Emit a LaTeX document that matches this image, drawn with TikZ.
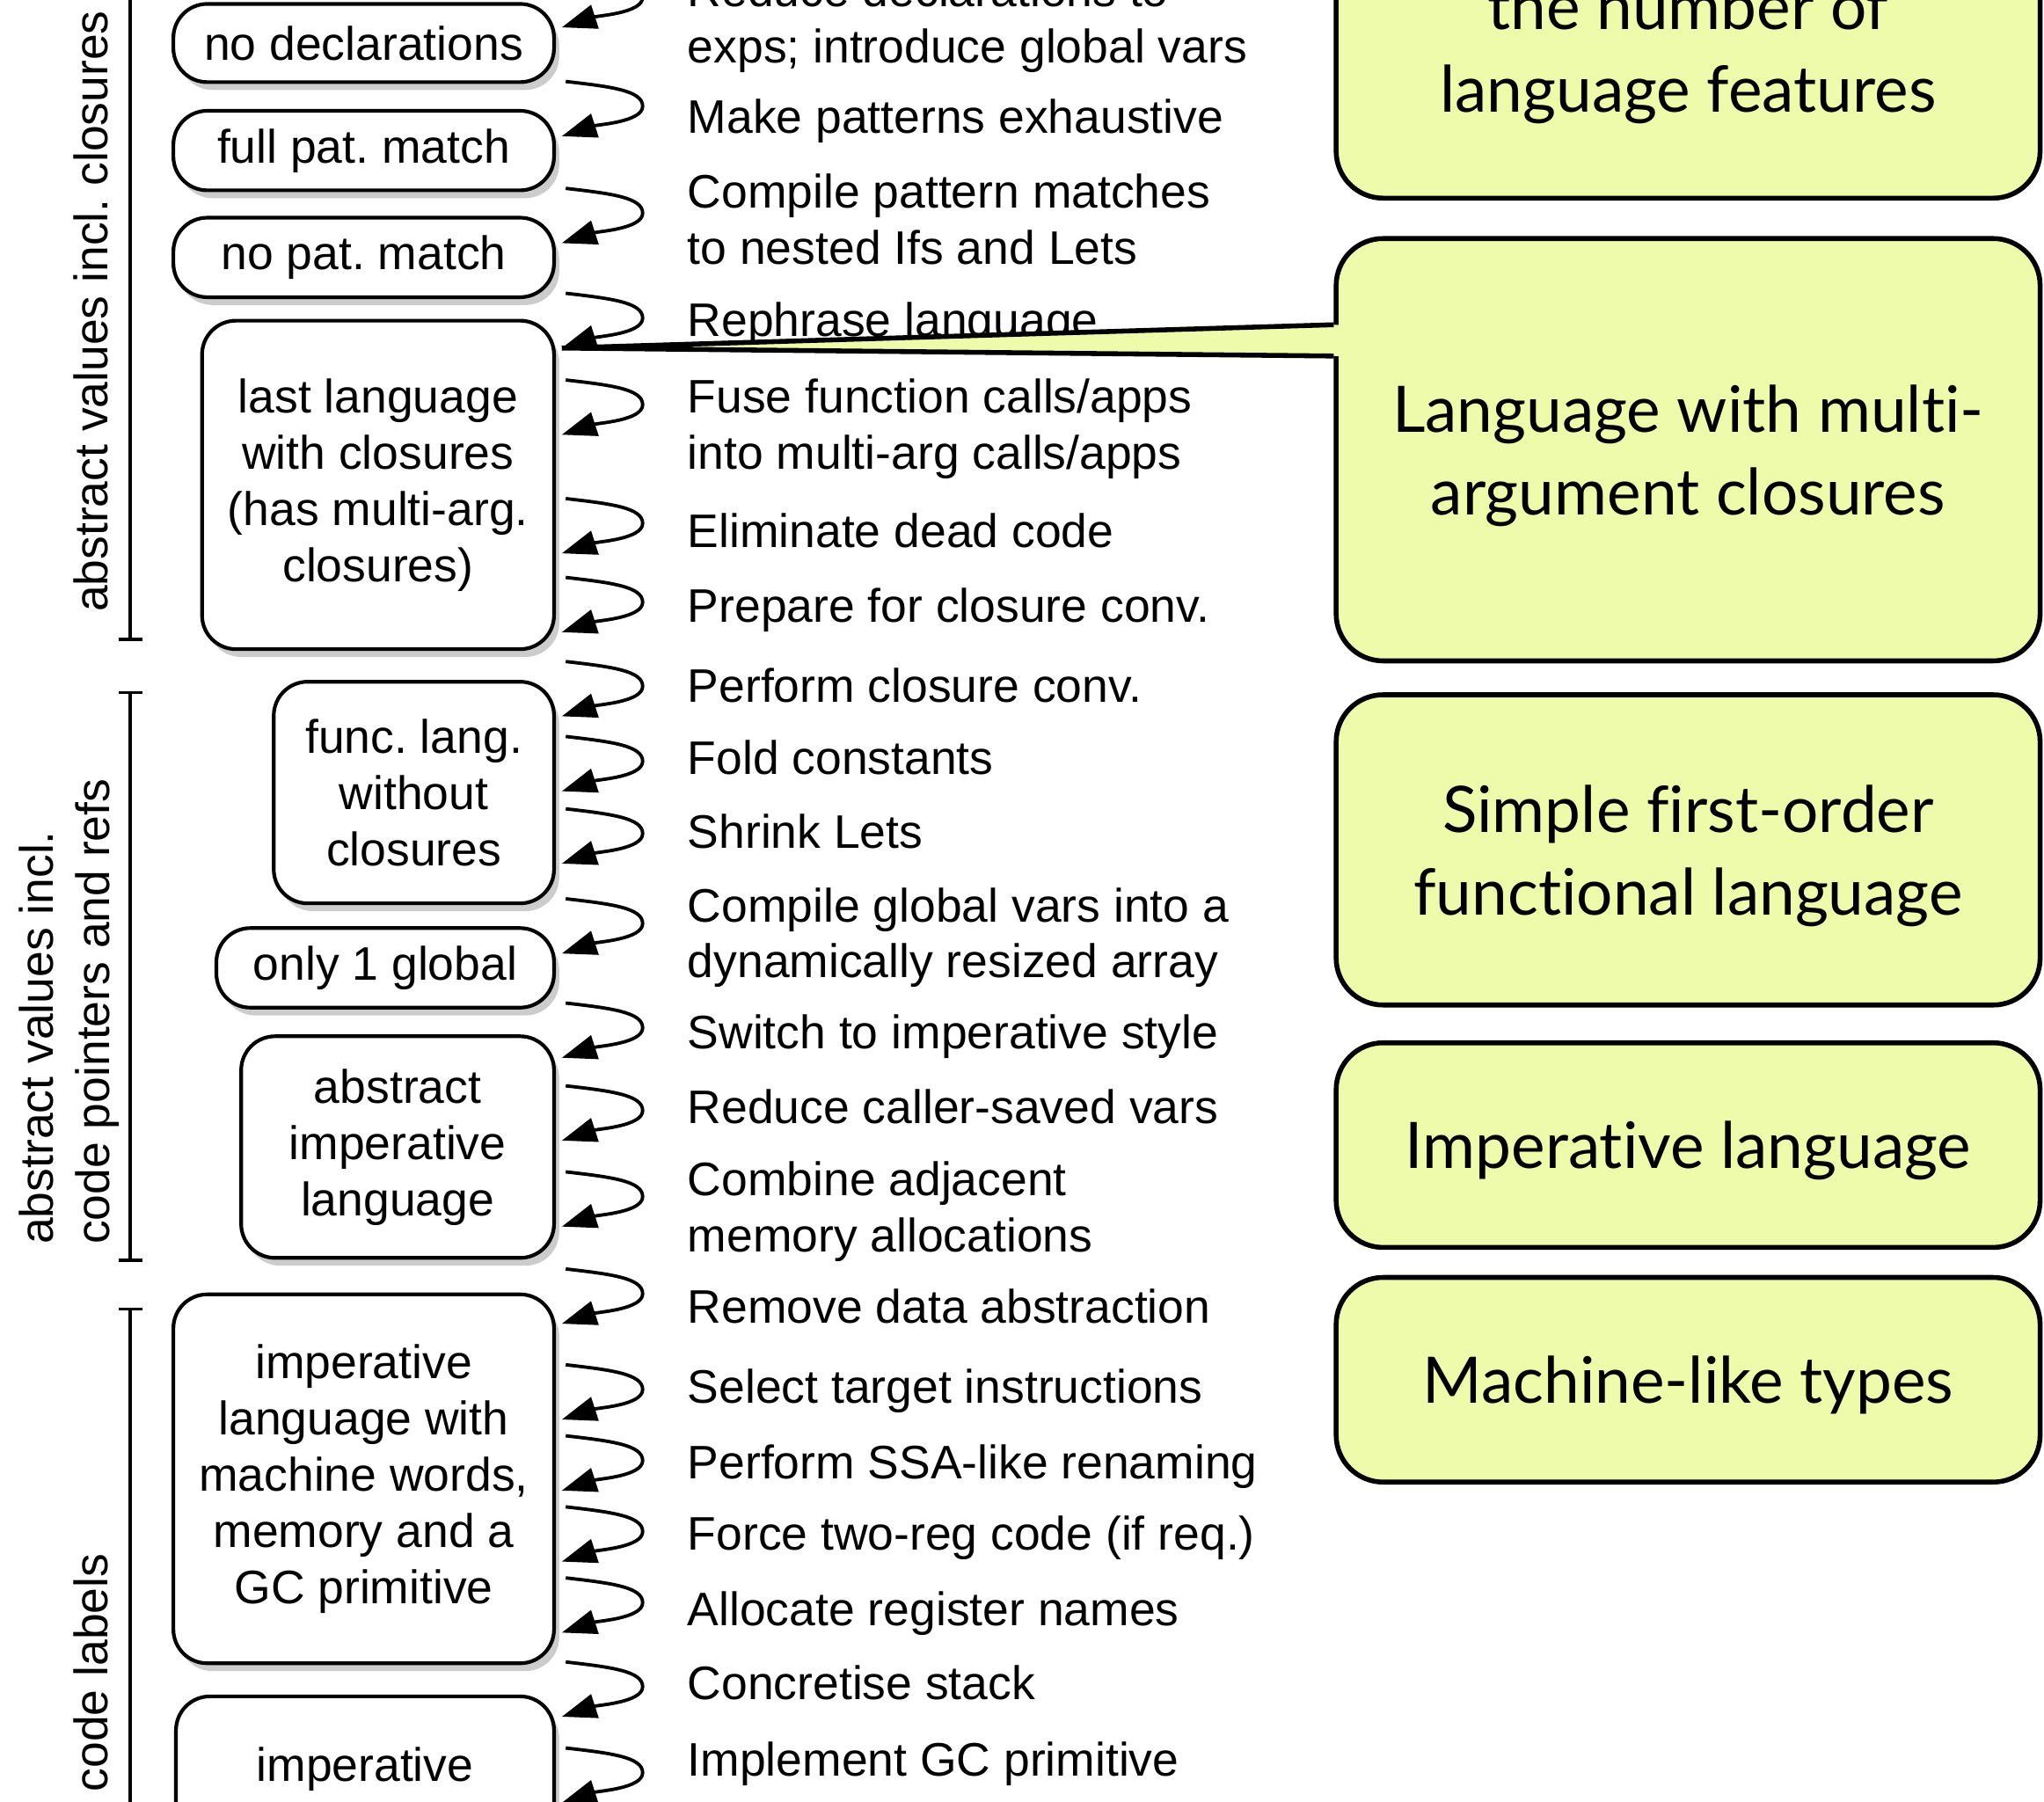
\documentclass[tikz,border=0pt]{standalone}
\usepackage{fontspec}
\setmainfont{Liberation Sans}
\newfontfamily\notefont[Ligatures=NoCommon]{Lato}
\usetikzlibrary{arrows.meta, shadows, calc}
\definecolor{notefill}{HTML}{EEFBAA}

\begin{document}
\begin{tikzpicture}[
    x=0.015cm, y=-0.015cm,
    lang/.style={rectangle, draw, rounded corners=0.39cm, line width=1.2pt,
                 fill=white, align=center, inner sep=0pt,
                 font=\fontsize{15.4}{18.4}\selectfont,
                 drop shadow={shadow xshift=0.06cm, shadow yshift=-0.09cm,
                              fill=black!20, opacity=1}},
    note/.style={rectangle, draw, rounded corners=0.54cm, line width=1.6pt,
                 fill=notefill, align=center, minimum width=8.1cm, text depth=0pt,
                 font=\notefont\fontsize{21}{27}\selectfont},
    passlbl/.style={anchor=west, align=left, inner sep=0pt,
                    font=\fontsize{15.4}{18.4}\selectfont},
    pass/.style={-{Triangle[length=0.4cm, width=0.28cm]}, line width=1.1pt},
    spanline/.style={line width=1.1pt},
    spanlbl/.style={rotate=90, anchor=west, align=left, inner sep=0pt,
                    font=\fontsize{15.4}{18.4}\selectfont}
]
    \useasboundingbox (0,0) rectangle (1568,1382);
    \clip (0,0) rectangle (1568,1382);

    \draw[spanline, -{Bar[width=0.27cm]}] (100,-20) -- (100,492);
    \draw[spanline, {Bar[width=0.27cm]}-{Bar[width=0.27cm]}] (100,530) -- (100,968);
    \draw[spanline, {Bar[width=0.27cm]}-] (100,1003) -- (100,1400);
    \node[spanlbl] (closlbl) at (70,470) {abstract values incl.\ closures};
    \node[spanlbl] (ptrlbl) at (53,955) {abstract values incl.\\code pointers and refs};
    \node[spanlbl] (codelbl) at (70,1375) {code labels};

    \node[lang, minimum width=4.38cm, minimum height=0.9cm] (nodecl) at (279,33) {no declarations};
    \node[lang, minimum width=4.38cm, minimum height=0.915cm] (fullpm) at (279,115.5) {full pat.\ match};
    \node[lang, minimum width=4.38cm, minimum height=0.915cm] (nopm) at (279,197.5) {no pat.\ match};
    \node[lang, minimum width=4.05cm, minimum height=3.78cm] (lastclos) at (290,372)
      {last language\\with closures\\(has multi-arg.\\closures)};
    \node[lang, minimum width=3.225cm, minimum height=2.55cm] (funcl) at (317.5,608)
      {func.\ lang.\\without\\closures};
    \node[lang, minimum width=3.885cm, minimum height=0.915cm] (oneglob) at (295.5,742.5) {only 1 global};
    \node[lang, minimum width=3.6cm, minimum height=2.55cm] (absimp) at (305,880)
      {abstract\\imperative\\language};
    \node[lang, minimum width=4.38cm, minimum height=4.245cm] (machimp) at (279,1134.5)
      {imperative\\language with\\machine words,\\memory and a\\GC primitive};
    \node[lang, anchor=north, minimum width=4.35cm, text height=0.9cm, text depth=3cm,
          inner ysep=0.075cm] (lastimp) at (280,1300) {imperative};

    \node[passlbl] (reduce) at (527,17.3) {Reduce declarations to\\exps; introduce global vars};
    \node[passlbl] (mkpat) at (527,93) {Make patterns exhaustive};
    \node[passlbl] (cmppat) at (527,168.5) {Compile pattern matches\\to nested Ifs and Lets};
    \node[passlbl] (rephr) at (527,248.8) {Rephrase language};
    \node[passlbl] (fuse) at (527,329) {Fuse function calls/apps\\into multi-arg calls/apps};
    \node[passlbl] (dead) at (527,407) {Eliminate dead code};
    \node[passlbl] (prep) at (527,468) {Prepare for closure conv.};
    \node[passlbl] (clos) at (527,526) {Perform closure conv.};
    \node[passlbl] (fold) at (527,581) {Fold constants};
    \node[passlbl] (shrink) at (527,638) {Shrink Lets};
    \node[passlbl] (glob) at (527,719.3) {Compile global vars into a\\dynamically resized array};
    \node[passlbl] (imp) at (527,795) {Switch to imperative style};
    \node[passlbl] (callers) at (527,849) {Reduce caller-saved vars};
    \node[passlbl] (comb) at (527,929.3) {Combine adjacent\\memory allocations};
    \node[passlbl] (nodata) at (527,1002) {Remove data abstraction};
    \node[passlbl] (isel) at (527,1067) {Select target instructions};
    \node[passlbl] (ssa) at (527,1125) {Perform SSA-like renaming};
    \node[passlbl] (tworeg) at (527,1180) {Force two-reg code (if req.)};
    \node[passlbl] (regalloc) at (527,1238) {Allocate register names};
    \node[passlbl] (stack) at (527,1291) {Concretise stack};
    \node[passlbl] (gc) at (527,1353) {Implement GC primitive};

    \foreach \y [count=\i] in {-21,62.5,144.5,225,291.5,382.5,443,507.5,565,620.5,
                               689.5,769.5,833,899,973.5,1047,1101.5,1156,1210.5,1275,1341}{
      \coordinate (s\i) at (434,\y);
      \coordinate (e\i) at (431,\y+42);
      \draw[pass] (s\i) .. controls +(35,4) and +(0,-12) .. ($(s\i)+(59,19)$)
                        .. controls +(0,12) and +(28,-9) .. (e\i);
    }

    \node[note, minimum height=3.48cm] (fewer) at (1295,36) {the number of\\language features};
    \node[note, minimum height=4.86cm] (multi) at (1295,345) {Language with multi-\\argument closures};
    \node[note, minimum height=3.57cm] (firstord) at (1295,652) {Simple first-order\\functional language};
    \node[note, minimum height=2.355cm] (imper) at (1295,878.5) {Imperative language};
    \node[note, minimum height=2.355cm] (mach) at (1295,1058.5) {Machine-like types};

    \coordinate (ptop) at ($(multi.north west)+(0,68)$);
    \coordinate (pbot) at ($(multi.north west)+(0,92)$);
    \fill[notefill] (e4) -- ($(ptop)+(5,0)$) -- ($(pbot)+(5,0)$) -- cycle;
    \draw[line width=1.6pt] (ptop) -- (e4) -- (pbot);
\end{tikzpicture}
\end{document}
